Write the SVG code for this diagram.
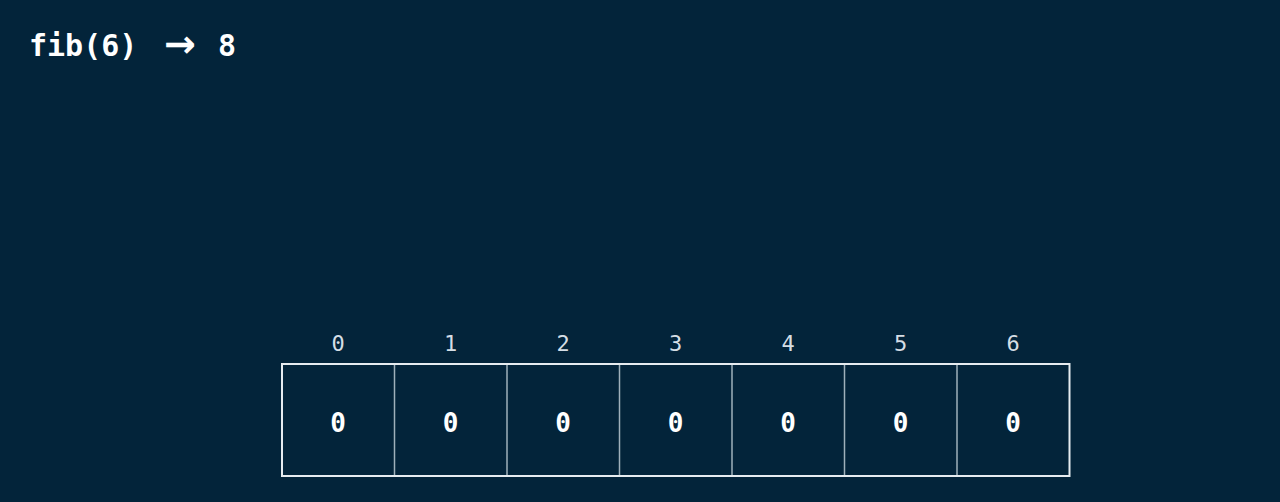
<svg xmlns="http://www.w3.org/2000/svg" width="1280" height="502" viewBox="0 0 1280 502">
<style>
.title{font-family:"DejaVu Sans Mono","Liberation Mono",monospace;font-weight:bold;font-size:30px;fill:#ffffff}
.arrow{font-family:"DejaVu Sans","Liberation Sans",sans-serif;font-weight:bold;font-size:38px}
.idx{font-family:"DejaVu Sans Mono","Liberation Mono",monospace;font-size:22px;fill:#d5dee5;text-anchor:middle}
.val{font-family:"DejaVu Sans Mono","Liberation Mono",monospace;font-weight:bold;font-size:26px;fill:#ffffff;text-anchor:middle}
.div{stroke:#9fb0bb;stroke-width:1.5}
</style>
<rect width="1280" height="502" fill="#03243a"/>
<g id="title">
<text class="title" y="56"><tspan x="29">fib(6)</tspan><tspan class="arrow" x="164" y="57">→</tspan><tspan x="218" y="56">8</tspan></text>
</g>
<g id="array">
<rect x="282" y="364" width="787.5" height="112" fill="none" stroke="#e6ecf0" stroke-width="2"/>
<line class="div" x1="394.5" y1="365" x2="394.5" y2="475"/>
<line class="div" x1="507" y1="365" x2="507" y2="475"/>
<line class="div" x1="619.5" y1="365" x2="619.5" y2="475"/>
<line class="div" x1="732" y1="365" x2="732" y2="475"/>
<line class="div" x1="844.5" y1="365" x2="844.5" y2="475"/>
<line class="div" x1="957" y1="365" x2="957" y2="475"/>
</g>
<g id="cell0"><text class="idx" x="338" y="351">0</text><text class="val" x="338" y="432">0</text></g>
<g id="cell1"><text class="idx" x="450.5" y="351">1</text><text class="val" x="450.5" y="432">0</text></g>
<g id="cell2"><text class="idx" x="563" y="351">2</text><text class="val" x="563" y="432">0</text></g>
<g id="cell3"><text class="idx" x="675.5" y="351">3</text><text class="val" x="675.5" y="432">0</text></g>
<g id="cell4"><text class="idx" x="788" y="351">4</text><text class="val" x="788" y="432">0</text></g>
<g id="cell5"><text class="idx" x="900.5" y="351">5</text><text class="val" x="900.5" y="432">0</text></g>
<g id="cell6"><text class="idx" x="1013" y="351">6</text><text class="val" x="1013" y="432">0</text></g>
</svg>
